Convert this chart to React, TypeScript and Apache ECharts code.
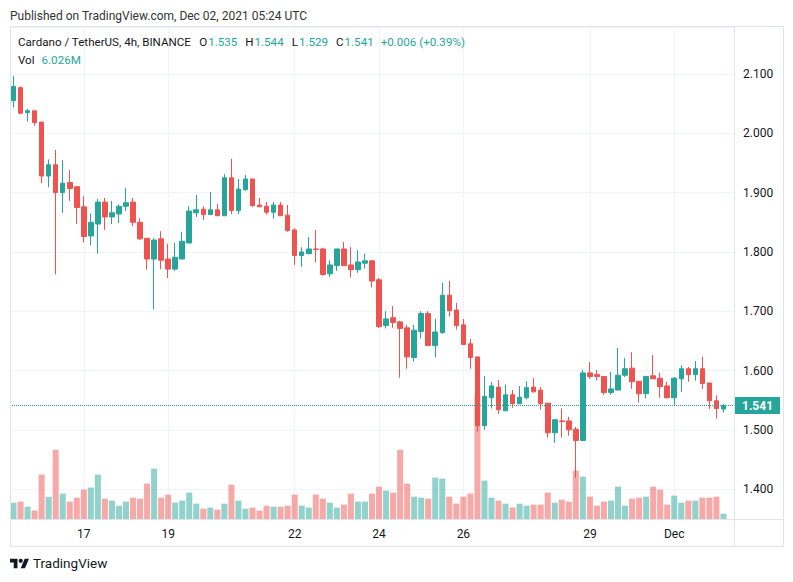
import React, { useEffect, useRef } from 'react';
import * as echarts from 'echarts';

// ---- Data (ADA/USDT 4h, BINANCE) ----
const opens = [
  2.055, 2.077, 2.035, 2.038, 2.019, 1.928, 1.947, 1.900, 1.917, 1.910,
  1.876, 1.827, 1.847, 1.884, 1.859, 1.864, 1.877, 1.884, 1.850, 1.823,
  1.788, 1.822, 1.788, 1.771, 1.788, 1.815, 1.866, 1.872, 1.863, 1.871,
  1.861, 1.925, 1.870, 1.905, 1.923, 1.879, 1.877, 1.867, 1.879, 1.862,
  1.837, 1.794, 1.797, 1.805, 1.805, 1.763, 1.777, 1.805, 1.778, 1.770,
  1.781, 1.785, 1.753, 1.676, 1.689, 1.682, 1.672, 1.622, 1.666, 1.696,
  1.642, 1.664, 1.727, 1.702, 1.677, 1.645, 1.623, 1.507, 1.554, 1.572,
  1.532, 1.559, 1.544, 1.554, 1.572, 1.567, 1.545, 1.495, 1.515, 1.515,
  1.501, 1.482, 1.596, 1.593, 1.590, 1.563, 1.567, 1.592, 1.604, 1.582,
  1.561, 1.591, 1.587, 1.574, 1.554, 1.586, 1.603, 1.593, 1.603, 1.579,
  1.549, 1.535,
];
const highs = [
  2.097, 2.079, 2.041, 2.038, 2.019, 1.956, 1.972, 1.955, 1.938, 1.911,
  1.894, 1.865, 1.889, 1.891, 1.886, 1.880, 1.908, 1.891, 1.857, 1.823,
  1.823, 1.835, 1.814, 1.815, 1.834, 1.877, 1.896, 1.877, 1.901, 1.881,
  1.931, 1.957, 1.923, 1.930, 1.923, 1.891, 1.884, 1.884, 1.884, 1.879,
  1.840, 1.808, 1.825, 1.837, 1.807, 1.786, 1.805, 1.817, 1.808, 1.803,
  1.797, 1.785, 1.756, 1.700, 1.709, 1.684, 1.677, 1.677, 1.700, 1.700,
  1.687, 1.748, 1.751, 1.714, 1.687, 1.653, 1.623, 1.591, 1.581, 1.584,
  1.576, 1.567, 1.574, 1.582, 1.587, 1.572, 1.545, 1.518, 1.536, 1.522,
  1.505, 1.601, 1.614, 1.601, 1.590, 1.598, 1.638, 1.621, 1.631, 1.582,
  1.591, 1.626, 1.596, 1.581, 1.589, 1.609, 1.606, 1.616, 1.623, 1.579,
  1.558, 1.544,
];
const lows = [
  2.044, 2.032, 2.020, 2.013, 1.916, 1.909, 1.762, 1.866, 1.886, 1.847,
  1.816, 1.811, 1.797, 1.837, 1.847, 1.849, 1.869, 1.843, 1.820, 1.770,
  1.703, 1.771, 1.756, 1.768, 1.788, 1.815, 1.859, 1.854, 1.863, 1.861,
  1.861, 1.864, 1.864, 1.903, 1.876, 1.876, 1.863, 1.856, 1.861, 1.834,
  1.778, 1.775, 1.797, 1.782, 1.760, 1.758, 1.768, 1.777, 1.757, 1.765,
  1.772, 1.740, 1.672, 1.671, 1.672, 1.588, 1.603, 1.615, 1.654, 1.642,
  1.622, 1.662, 1.691, 1.669, 1.644, 1.603, 1.497, 1.500, 1.536, 1.527,
  1.532, 1.537, 1.544, 1.551, 1.563, 1.534, 1.487, 1.478, 1.487, 1.490,
  1.419, 1.482, 1.586, 1.583, 1.559, 1.559, 1.567, 1.589, 1.569, 1.546,
  1.553, 1.586, 1.554, 1.553, 1.541, 1.564, 1.581, 1.583, 1.569, 1.535,
  1.519, 1.529,
];
const closes = [
  2.079, 2.034, 2.038, 2.018, 1.928, 1.947, 1.900, 1.916, 1.907, 1.875,
  1.826, 1.850, 1.884, 1.859, 1.866, 1.877, 1.883, 1.850, 1.822, 1.788,
  1.820, 1.786, 1.771, 1.791, 1.818, 1.869, 1.871, 1.863, 1.871, 1.861,
  1.925, 1.870, 1.906, 1.923, 1.878, 1.876, 1.867, 1.879, 1.861, 1.836,
  1.794, 1.800, 1.805, 1.804, 1.762, 1.778, 1.805, 1.777, 1.770, 1.783,
  1.785, 1.751, 1.674, 1.687, 1.681, 1.671, 1.623, 1.668, 1.696, 1.642,
  1.665, 1.727, 1.701, 1.676, 1.644, 1.622, 1.507, 1.556, 1.574, 1.534,
  1.559, 1.544, 1.555, 1.571, 1.564, 1.544, 1.495, 1.517, 1.514, 1.500,
  1.482, 1.596, 1.590, 1.590, 1.563, 1.569, 1.592, 1.603, 1.581, 1.561,
  1.590, 1.586, 1.573, 1.554, 1.587, 1.603, 1.593, 1.603, 1.578, 1.549,
  1.536, 1.541,
];
// volume in millions
const volumes = [
  18.5, 19.7, 14.0, 9.5, 50.3, 25.3, 78.3, 28.8, 19.7, 24.2,
  33.3, 35.6, 50.3, 23.1, 20.8, 15.1, 19.7, 24.2, 23.1, 40.1,
  57.1, 24.2, 27.6, 18.5, 20.8, 29.9, 17.4, 11.7, 12.9, 10.6,
  17.4, 39.0, 20.8, 11.7, 12.9, 9.5, 15.1, 14.0, 14.0, 15.1,
  27.6, 15.1, 12.9, 27.6, 23.1, 18.5, 12.9, 16.3, 28.8, 19.7,
  19.7, 28.8, 36.7, 32.2, 29.9, 78.3, 40.1, 25.3, 24.2, 23.1,
  46.9, 45.8, 25.3, 17.4, 25.3, 28.8, 140.5, 43.5, 24.2, 20.8,
  17.4, 12.9, 17.4, 15.1, 16.3, 16.3, 29.9, 18.5, 21.9, 19.7,
  54.9, 48.0, 25.3, 15.1, 19.7, 20.8, 36.7, 15.1, 23.1, 24.2,
  25.3, 36.7, 33.3, 16.3, 26.5, 18.5, 20.8, 20.8, 24.2, 24.2,
  25.3, 6.026,
];
const firstCandleUTC = Date.UTC(2021, 10, 15, 8, 0);
const candleHours = 4;
const slotCount = 103; // 102 candles + one empty slot on the right
const timeTickDates = [
  '2021-11-17 00:00', '2021-11-19 00:00', '2021-11-22 00:00', '2021-11-24 00:00',
  '2021-11-26 00:00', '2021-11-29 00:00', '2021-12-01 00:00',
];
const timeTickLabels = ['17', '19', '22', '24', '26', '29', 'Dec'];
const priceChange = '+0.006 (+0.39%)';

const pad = (n: number) => (n < 10 ? '0' + n : '' + n);
const categories: string[] = [];
for (let i = 0; i < slotCount; i++) {
  const d = new Date(firstCandleUTC + i * candleHours * 3600 * 1000);
  categories.push(
    `${d.getUTCFullYear()}-${pad(d.getUTCMonth() + 1)}-${pad(d.getUTCDate())} ${pad(d.getUTCHours())}:${pad(d.getUTCMinutes())}`
  );
}

echarts.graphic.registerShape(
  'tvlogo',
  echarts.graphic.extendPath('M14 22H7V11H0V4h14v18zM28 22h-8l7.5-18h8L28 22zM24 8a4 4 0 1 1-8 0a4 4 0 1 1 8 0z', {}) as any
);

const UP = '#26a69a';
const DOWN = '#ef5350';
const TEXT = '#131722';
const FONT = "Roboto, 'DejaVu Sans', sans-serif";
const FRAME = '#e0e3eb';
const GRIDLINE = '#f0f3fa';

export default function App() {
  const ref = useRef<HTMLDivElement>(null);
  useEffect(() => {
    const chart = echarts.init(ref.current!, null, { renderer: 'svg' });
    const n = closes.length;
    const last = n - 1;
    const candleData = opens.map((o, i) => [o, closes[i], lows[i], highs[i]]);
    const volData = volumes.map((v, i) => ({
      value: v,
      itemStyle: { color: closes[i] >= opens[i] ? 'rgba(38,166,154,0.5)' : 'rgba(239,83,80,0.5)' },
    }));
    const tickMap: Record<string, string> = {};
    timeTickDates.forEach((d, i) => (tickMap[d] = timeTickLabels[i]));
    const isTick = (idx: number) => tickMap[categories[idx]] !== undefined;

    const fmtVol = (v: number) => v.toFixed(3) + 'M';

    const option: any = {
      animation: false,
      backgroundColor: '#ffffff',
      textStyle: { fontFamily: FONT },
      title: [
        {
          text: 'Published on TradingView.com, Dec 02, 2021 05:24 UTC',
          left: 10,
          top: 10,
          padding: 0,
          textStyle: { fontSize: 12, fontWeight: 'normal', color: '#333333', fontFamily: FONT },
        },
        {
          text:
            'Cardano / TetherUS, 4h, BINANCE' +
            `{l|O}{v|${opens[last].toFixed(3)}}{l|H}{v|${highs[last].toFixed(3)}}{l|L}{v|${lows[last].toFixed(3)}}{l|C}{v|${closes[last].toFixed(3)}}{c|${priceChange}}`,
          left: 18,
          top: 36,
          padding: 0,
          textStyle: {
            fontSize: 11.6,
            fontWeight: 'normal',
            color: TEXT,
            fontFamily: FONT,
            rich: {
              l: { color: TEXT, fontSize: 11.6, fontFamily: FONT, padding: [0, 1, 0, 8] },
              v: { color: UP, fontSize: 11.6, fontFamily: FONT },
              c: { color: UP, fontSize: 11.6, fontFamily: FONT, padding: [0, 0, 0, 7] },
            },
          },
        },
        {
          text: `Vol{v|${fmtVol(volumes[last])}}`,
          left: 18,
          top: 54,
          padding: 0,
          textStyle: {
            fontSize: 11.6,
            fontWeight: 'normal',
            color: TEXT,
            fontFamily: FONT,
            rich: { v: { color: UP, fontSize: 11.6, fontFamily: FONT, padding: [0, 0, 0, 7] } },
          },
        },
        {
          text: 'TradingView',
          left: 33,
          top: 556,
          padding: 0,
          textStyle: { fontSize: 13.5, fontWeight: 'normal', color: TEXT, fontFamily: FONT },
        },
      ],
      graphic: [
        {
          type: 'rect',
          silent: true,
          z: 10,
          shape: { x: 10.5, y: 26.5, width: 773, height: 520 },
          style: { fill: 'none', stroke: FRAME, lineWidth: 1 },
        },
        {
          type: 'line',
          silent: true,
          z: 10,
          shape: { x1: 734.5, y1: 26.5, x2: 734.5, y2: 546.5 },
          style: { stroke: FRAME, lineWidth: 1 },
        },
        {
          type: 'line',
          silent: true,
          z: 10,
          shape: { x1: 10.5, y1: 519.5, x2: 783.5, y2: 519.5 },
          style: { stroke: FRAME, lineWidth: 1 },
        },
        {
          type: 'tvlogo',
          silent: true,
          x: 10,
          y: 556.5,
          scaleX: 0.535,
          scaleY: 0.535,
          style: { fill: TEXT },
        },
      ],
      grid: [
        { left: 10, right: 59, top: 27, bottom: 63, containLabel: false },
        { left: 10, right: 59, top: 395, bottom: 63, containLabel: false },
      ],
      xAxis: [
        {
          type: 'category',
          gridIndex: 0,
          data: categories,
          boundaryGap: true,
          axisLine: { show: false },
          axisTick: { show: false },
          axisLabel: {
            interval: (idx: number) => isTick(idx),
            formatter: (val: string) => tickMap[val] || '',
            color: TEXT,
            fontSize: 12,
            fontFamily: FONT,
            margin: 9,
          },
          splitLine: {
            show: true,
            interval: (idx: number) => isTick(idx),
            alignWithLabel: true,
            lineStyle: { color: GRIDLINE, width: 1 },
          },
        },
        {
          type: 'category',
          gridIndex: 1,
          data: categories,
          boundaryGap: true,
          show: false,
        },
      ],
      yAxis: [
        {
          type: 'value',
          gridIndex: 0,
          position: 'right',
          min: 1.3496,
          max: 2.1793,
          splitNumber: 8,
          minInterval: 0.1,
          maxInterval: 0.1,
          axisLine: { show: false },
          axisTick: { show: false },
          axisLabel: {
            showMinLabel: false,
            showMaxLabel: false,
            formatter: (v: number) => v.toFixed(3),
            color: TEXT,
            fontSize: 12,
            fontFamily: FONT,
            margin: 9,
          },
          splitLine: { show: true, lineStyle: { color: GRIDLINE, width: 1 } },
        },
        {
          type: 'value',
          gridIndex: 1,
          min: 0,
          max: 'dataMax',
          show: false,
          splitLine: { show: false },
        },
      ],
      series: [
        {
          type: 'bar',
          name: 'Vol',
          xAxisIndex: 1,
          yAxisIndex: 1,
          data: volData,
          barWidth: '86%',
          z: 1,
          silent: true,
        },
        {
          type: 'candlestick',
          name: 'ADAUSDT',
          xAxisIndex: 0,
          yAxisIndex: 0,
          data: candleData,
          barWidth: '72%',
          z: 3,
          itemStyle: {
            color: UP,
            color0: DOWN,
            borderColor: UP,
            borderColor0: DOWN,
            borderWidth: 1,
          },
          markLine: {
            silent: true,
            symbol: ['none', 'none'],
            precision: 3,
            data: [{ yAxis: closes[last] }],
            lineStyle: { color: UP, type: 'dotted', width: 1 },
            label: {
              show: true,
              position: 'end',
              distance: 1,
              formatter: () => closes[last].toFixed(3),
              backgroundColor: UP,
              color: '#ffffff',
              fontSize: 12,
              fontWeight: 'bold',
              fontFamily: FONT,
              padding: [3, 7, 2, 7],
            },
            emphasis: { disabled: true },
          },
        },
      ],
    };
    chart.setOption(option);
    return () => chart.dispose();
  }, []);
  return (
    <div
      ref={ref}
      style={{ position: 'fixed', left: 0, top: 0, width: 793, height: 582, background: '#ffffff' }}
    />
  );
}
